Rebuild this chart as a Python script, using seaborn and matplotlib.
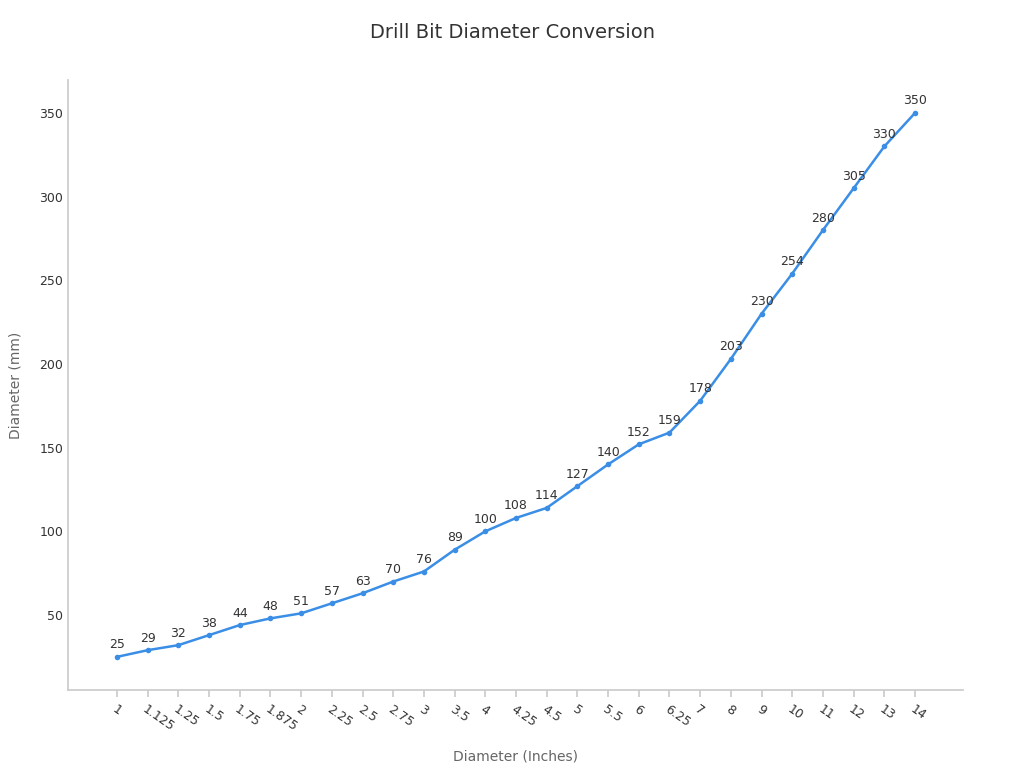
import matplotlib
matplotlib.use('Agg')
import matplotlib.pyplot as plt
import seaborn as sns
import pandas as pd

# data
inches = ['1', '1.125', '1.25', '1.5', '1.75', '1.875', '2', '2.25', '2.5', '2.75',
          '3', '3.5', '4', '4.25', '4.5', '5', '5.5', '6', '6.25', '7',
          '8', '9', '10', '11', '12', '13', '14']
mm = [25, 29, 32, 38, 44, 48, 51, 57, 63, 70,
      76, 89, 100, 108, 114, 127, 140, 152, 159, 178,
      203, 230, 254, 280, 305, 330, 350]

df = pd.DataFrame({'pos': range(len(inches)), 'mm': mm})

sns.set_theme(style='white')
plt.rcParams['font.family'] = ['DejaVu Sans']

LINE = '#3a8ee6'
fig = plt.figure(figsize=(10.24, 7.68), dpi=100)
ax = fig.add_axes([68/1024, 1 - 690/768, (963-68)/1024, (690-80)/768])

sns.lineplot(data=df, x='pos', y='mm', ax=ax, color=LINE, linewidth=1.8,
             marker='o', markersize=4, markeredgewidth=0)

for x, y in zip(df['pos'], df['mm']):
    ax.annotate(str(y), (x, y), xytext=(0, 4), textcoords='offset points',
                ha='center', va='bottom', fontsize=9, color='#333333')

n = len(inches)
step = (915 - 117) / (n - 1)
ax.set_xlim(-(117 - 68) / step, (n - 1) + (963 - 915) / step)
ax.set_ylim(5.2, 369.7)
ax.set_xticks(range(n))
ax.set_xticklabels(inches, rotation=-35, ha='left', rotation_mode='anchor',
                   fontsize=9, color='#333333')
ax.set_yticks([50, 100, 150, 200, 250, 300, 350])
ax.tick_params(axis='y', labelsize=9, labelcolor='#333333', length=0)
ax.tick_params(axis='x', length=5, color='#cccccc', bottom=True, pad=4)

for s in ['top', 'right']:
    ax.spines[s].set_visible(False)
for s in ['left', 'bottom']:
    ax.spines[s].set_color('#cccccc')

ax.set_xlabel('Diameter (Inches)', fontsize=10, color='#666666')
ax.xaxis.set_label_coords(0.5, -(750 - 690) / 610, transform=ax.transAxes)
ax.set_ylabel('Diameter (mm)', fontsize=10, color='#666666', labelpad=12)
fig.suptitle('Drill Bit Diameter Conversion', fontsize=14, color='#333333', y=0.97)

fig.savefig('out.png', dpi=100)
